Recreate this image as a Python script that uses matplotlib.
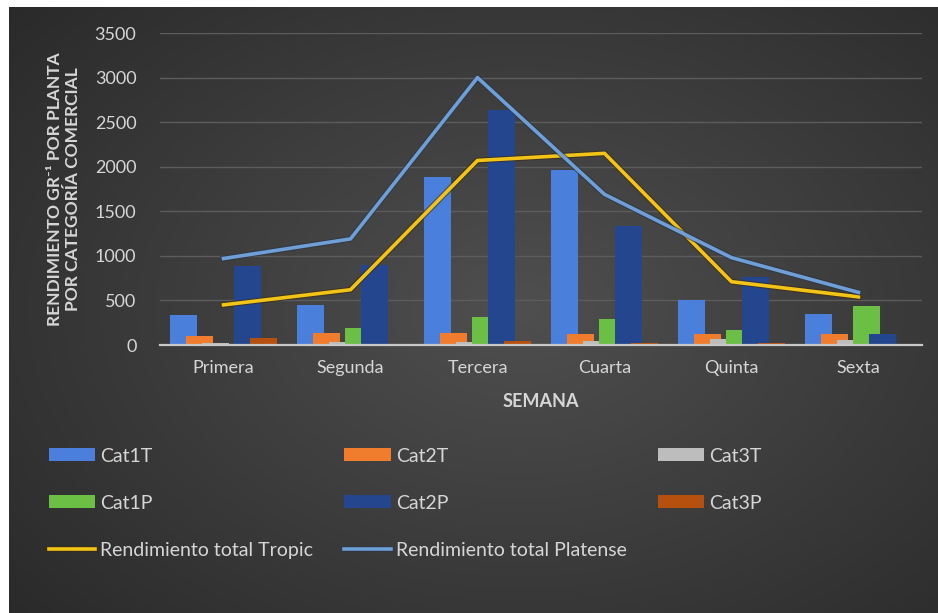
import numpy as np
import matplotlib
matplotlib.use("Agg")
import matplotlib.pyplot as plt
import matplotlib.patheffects as pe

plt.rcParams['font.family'] = ['Lato', 'DejaVu Sans']

# ---- data ----
semanas = ["Primera", "Segunda", "Tercera", "Cuarta", "Quinta", "Sexta"]
series_names = ["Cat1T", "Cat2T", "Cat3T", "Cat1P", "Cat2P", "Cat3P"]
cat1t = [340, 450, 1890, 1960, 510, 350]
cat2t = [100, 130, 140, 120, 120, 120]
cat3t = [20, 30, 30, 50, 70, 60]
cat1p = [0, 190, 310, 290, 170, 440]
cat2p = [890, 900, 2640, 1330, 760, 120]
cat3p = [80, 10, 50, 20, 20, 0]
total_tropic = [450, 620, 2070, 2150, 710, 540]
total_platense = [970, 1190, 3000, 1690, 980, 590]

bar_colors = ["#4a7fdc", "#f07d2e", "#bdbdbd", "#6cbf45", "#24468f", "#b6500f"]
tropic_color = "#f2c418"
platense_color = "#6f9fd6"
text_color = "#d6d6d6"

W, H = 938, 613
fig = plt.figure(figsize=(W / 100, H / 100), dpi=100, facecolor="white")

# dark radial-gradient background, inset by a thin white border top/left
bg = fig.add_axes([9 / W, 0, 1 - 9 / W, 1 - 7 / H])
yy, xx = np.mgrid[0:1:300j, 0:1:450j]
r = np.sqrt(((xx - 0.55) / 0.75) ** 2 + ((yy - 0.5) / 0.8) ** 2)
shade = np.clip(0.31 - 0.15 * r, 0.16, 0.31)
bg.imshow(np.dstack([shade] * 3), aspect="auto", extent=[0, 1, 0, 1],
          interpolation="bilinear")
bg.set_axis_off()

ax = fig.add_axes([160 / W, 1 - 345 / H, (922 - 160) / W, (345 - 33) / H])
ax.set_facecolor("none")

x = np.arange(len(semanas))
step = 0.126
width = 0.205
values = [cat1t, cat2t, cat3t, cat1p, cat2p, cat3p]
handles = {}
for i, (name, vals, col) in enumerate(zip(series_names, values, bar_colors)):
    b = ax.bar(x + (i - 2.5) * step, vals, width=width, color=col,
               label=name, zorder=2 + i * 0.1)
    handles[name] = b

shadow = [pe.Stroke(linewidth=4.2, foreground="#3a2a10", alpha=0.6), pe.Normal()]
(lt,) = ax.plot(x, total_tropic, color=tropic_color, lw=2.6, zorder=5,
                label="Rendimiento total Tropic", path_effects=shadow)
(lp,) = ax.plot(x, total_platense, color=platense_color, lw=2.6, zorder=5,
                label="Rendimiento total Platense",
                path_effects=[pe.Stroke(linewidth=4.2, foreground="#2a3545", alpha=0.6), pe.Normal()])
handles["Rendimiento total Tropic"] = lt
handles["Rendimiento total Platense"] = lp

ax.set_xlim(-0.5, len(semanas) - 0.5)
ax.set_ylim(0, 3500)
ax.set_yticks(np.arange(0, 3501, 500))
ax.set_xticks(x)
ax.set_xticklabels(semanas)
ax.grid(axis="y", color="#5c5c5c", lw=1.0, zorder=0)
for s in ["top", "right", "left"]:
    ax.spines[s].set_visible(False)
ax.spines["bottom"].set_color("#c8c8c8")
ax.spines["bottom"].set_linewidth(1.6)
ax.spines["bottom"].set_zorder(6)
ax.tick_params(axis="both", length=0, colors=text_color, labelsize=13)
ax.tick_params(axis="y", pad=17)
ax.tick_params(axis="x", pad=11)

ax.set_xlabel("SEMANA", color=text_color, fontsize=13, fontweight="bold", labelpad=12)
ax.set_ylabel("RENDIMIENTO GR⁻¹ POR PLANTA\nPOR CATEGORÍA COMERCIAL", color=text_color,
              fontsize=12.5, fontweight="bold", labelpad=10, linespacing=1.1)

order = ["Cat1T", "Cat1P", "Rendimiento total Tropic",
         "Cat2T", "Cat2P", "Rendimiento total Platense",
         "Cat3T", "Cat3P"]
leg = fig.legend([handles[k] for k in order], order, ncol=3,
                 loc="upper left", bbox_to_anchor=(31 / W, 1 - 430 / H),
                 frameon=False, fontsize=14, labelcolor=text_color,
                 handlelength=2.4, handleheight=0.65, handletextpad=0.25,
                 labelspacing=1.55, columnspacing=1.6)

fig.savefig("out.png", dpi=100, facecolor=fig.get_facecolor())
